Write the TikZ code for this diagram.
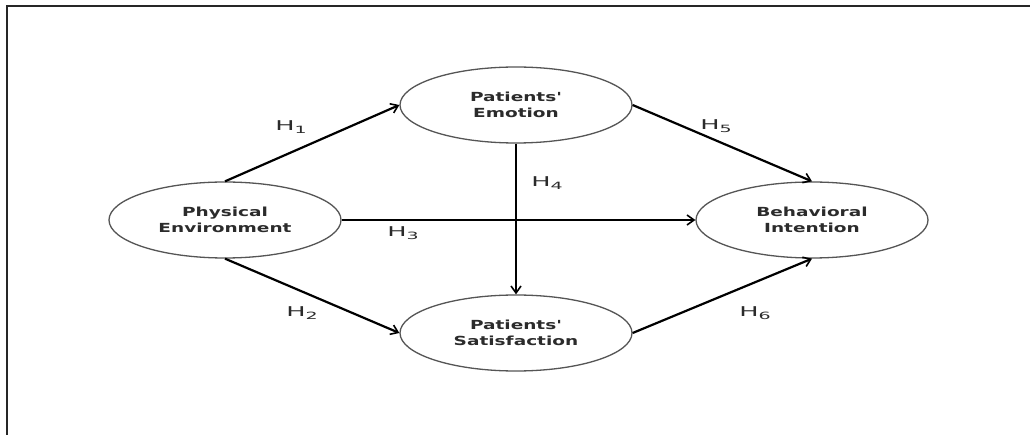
\documentclass[tikz,border=0pt]{standalone}
\usepackage{fontspec}
\usepackage{graphicx}
\usetikzlibrary{shapes.geometric,arrows.meta}
\newfontfamily\nodefont{DejaVu Sans}
\definecolor{txt}{HTML}{2b2b2b}
\definecolor{edge}{HTML}{555555}
\newcommand{\wl}[1]{\scalebox{1.48}[1]{#1}}
\tikzset{
  construct/.style={ellipse, draw=edge, line width=1.3pt, minimum width=232pt, minimum height=76pt, inner sep=0pt,
    font=\nodefont\bfseries\fontsize{12.5}{16}\selectfont, text=txt, align=center},
  path/.style={line width=2.2pt, black, -{Straight Barb[length=7pt,width=10pt,line width=1.6pt]}},
  hyp/.style={font=\nodefont\fontsize{13.5}{14}\selectfont, text=txt, inner sep=0pt},
  frame/.style={line width=2pt, black!85}
}
\newcommand{\hsub}[1]{\scalebox{1.9}[1]{H\raisebox{-3pt}{\fontsize{10}{11}\selectfont #1}}}
\begin{document}
\begin{tikzpicture}[x=1pt,y=-1pt]
\useasboundingbox (0,0) rectangle (1030,435);
\fill[white] (0,0) rectangle (1030,435);
\coordinate (fa) at (7,435);
\coordinate (fb) at (7,6.5);
\coordinate (fc) at (1030,6.5);
\draw[frame] (fa) -- (fb) -- (fc);

\node[construct] (pe) at (225,220) {\wl{Physical}\\\wl{Environment}};
\node[construct] (em) at (516,105) {\wl{Patients'}\\\wl{Emotion}};
\node[construct] (sat) at (516,333) {\wl{Patients'}\\\wl{Satisfaction}};
\node[construct] (bi) at (812,220) {\wl{Behavioral}\\\wl{Intention}};

\draw[path] (pe.north) -- (em.west);
\draw[path] (pe.south) -- (sat.west);
\draw[path] (pe.east) -- (bi.west);
\draw[path] (em.south) -- (sat.north);
\draw[path] (em.east) -- (bi.north);
\draw[path] (sat.east) -- (bi.south);

\node[hyp] (h1) at (291,127) {\hsub{1}};
\node[hyp] (h2) at (302,313) {\hsub{2}};
\node[hyp] (h3) at (403,233) {\hsub{3}};
\node[hyp] (h4) at (547,183) {\hsub{4}};
\node[hyp] (h5) at (716,126) {\hsub{5}};
\node[hyp] (h6) at (755,313) {\hsub{6}};
\end{tikzpicture}
\end{document}
